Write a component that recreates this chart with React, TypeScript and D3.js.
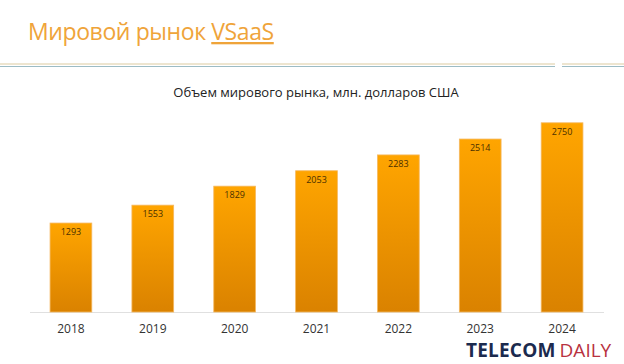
import React from "react";
import * as d3 from "d3";

const years = ["2018", "2019", "2020", "2021", "2022", "2023", "2024"];
const values = [1293, 1553, 1829, 2053, 2283, 2514, 2750];

const W = 624;
const H = 364;

export default function App() {
  const x = d3.scaleBand<string>().domain(years).range([30, 603]).paddingInner(0.49).paddingOuter(0.245);
  const y = d3.scaleLinear().domain([0, 3000]).range([312, 105.6]);
  const font = "'Segoe UI', 'Open Sans', 'Noto Sans', sans-serif";
  return (
    <svg width={W} height={H} style={{ position: "fixed", left: 0, top: 0, background: "#fff" }} fontFamily={font}>
      <defs>
        <linearGradient id="barG" x1="0" y1="0" x2="0" y2="1">
          <stop offset="0%" stopColor="#FFA500" />
          <stop offset="100%" stopColor="#DA8200" />
        </linearGradient>
      </defs>
      <rect x={0} y={0} width={W} height={H} fill="#fff" />
      <text x={28} y={40} fontSize={23} letterSpacing={-0.4} fill="#EFA43A" fontFamily={font}>
        Мировой рынок <tspan textDecoration="underline">VSaaS</tspan>
      </text>
      <line x1={0} x2={555} y1={64} y2={64} stroke="#DCCBA0" strokeWidth={1} />
      <line x1={0} x2={555} y1={66.5} y2={66.5} stroke="#9DBCC4" strokeWidth={1.2} />
      <line x1={562} x2={624} y1={64} y2={64} stroke="#DCCBA0" strokeWidth={1} />
      <line x1={562} x2={624} y1={66.5} y2={66.5} stroke="#9DBCC4" strokeWidth={1.2} />
      <text x={316} y={97} textAnchor="middle" fontSize={13} fill="#222">
        Объем мирового рынка, млн. долларов США
      </text>
      <line x1={30} x2={604} y1={312.5} y2={312.5} stroke="#E0E0E0" />
      {years.map((yr, i) => (
        <g key={yr}>
          <rect
            x={x(yr)!}
            y={y(values[i])}
            width={x.bandwidth()}
            height={y(0) - y(values[i])}
            fill="url(#barG)"
            stroke="#F5B860"
            strokeWidth={0.8}
          />
          <text x={x(yr)! + x.bandwidth() / 2} y={y(values[i]) + 12} textAnchor="middle" fontSize={9} fill="#4a3000">
            {values[i]}
          </text>
          <text x={x(yr)! + x.bandwidth() / 2} y={333} textAnchor="middle" fontSize={12} fill="#333">
            {yr}
          </text>
        </g>
      ))}
      <text x={466} y={357} fontSize={19} fontFamily="'Open Sans', sans-serif">
        <tspan fontWeight={700} fill="#1B2A4E" letterSpacing={0.2}>TELECOM</tspan>
        <tspan fill="#B8323F" dx={4}>DAILY</tspan>
      </text>
    </svg>
  );
}
